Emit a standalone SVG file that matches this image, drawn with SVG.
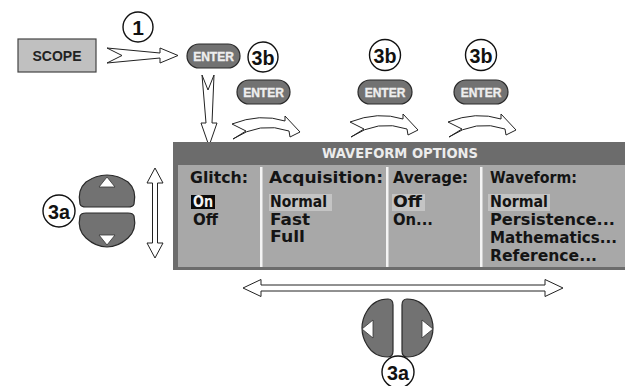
<svg xmlns="http://www.w3.org/2000/svg" width="625" height="386" viewBox="0 0 625 386">
<style>
.lbl circle{fill:#fff;stroke:#111;stroke-width:1.4}
.lbl text{font-family:"Liberation Sans",Arial,sans-serif;font-weight:bold;font-size:21px;fill:#111;text-anchor:middle}
.btn{fill:#727272;stroke:#2a2a2a;stroke-width:1.2}
.btxt{font-family:"Liberation Sans",Arial,sans-serif;font-weight:bold;font-size:12px;fill:#eeeeee;stroke:#eeeeee;stroke-width:0.35;text-anchor:middle}
.hollow{fill:#fff;stroke:#222;stroke-width:1}
.tri{fill:#fff;stroke:#333;stroke-width:0.8}
.scr{font-family:"DejaVu Sans",sans-serif;font-weight:bold;font-size:15.5px;fill:#141414}
.inv{fill:#f4f4f4}
</style>
<defs>
<path id="swoosh" d="M0,2 Q28,-9 53,-1 L53,-6 L68,10 L58,15 L57,9 Q28,-1 1,17 L14,9 Z"/>
</defs>

<g id="connectors">
<polygon class="hollow" points="107,48 160,53 160,48 178,55.5 160,63 160,58 107,63 122,55.5"/>
<polygon class="hollow" points="202,75 206,123 201,123 209,146 217,123 212,123 214,75 208,90"/>
<use href="#swoosh" class="hollow" x="232" y="122"/>
<use href="#swoosh" class="hollow" x="350" y="120"/>
<use href="#swoosh" class="hollow" x="448" y="120"/>
<polygon class="hollow" points="155,168 163,183 157.5,183 157.5,243 163,243 155,258 147,243 152.5,243 152.5,183 147,183"/>
<polygon class="hollow" points="243,288 261,279.5 261,285 545,285 545,279.5 563,288 545,296.5 545,291 261,291 261,296.5"/>
</g>

<g id="scope">
<rect x="18" y="39" width="78" height="33" fill="#c0c0c0" stroke="#444" stroke-width="1.2"/>
<text x="57" y="60.5" font-family="Liberation Sans, Arial, sans-serif" font-weight="bold" font-size="14" fill="#222" text-anchor="middle">SCOPE</text>
</g>

<g id="label-1" class="lbl"><circle cx="138" cy="27" r="15"/><text x="138" y="34.5">1</text></g>

<g id="enter-1"><rect class="btn" x="187" y="44" width="53" height="24" rx="12"/><text class="btxt" x="213.5" y="60.5">ENTER</text></g>
<g id="label-3b-1" class="lbl"><circle cx="263" cy="57" r="15"/><text x="263" y="64.5" textLength="23" lengthAdjust="spacingAndGlyphs">3b</text></g>

<g id="label-3b-2" class="lbl"><circle cx="385" cy="55" r="15.5"/><text x="385" y="62.5" textLength="23" lengthAdjust="spacingAndGlyphs">3b</text></g>
<g id="label-3b-3" class="lbl"><circle cx="481" cy="55" r="15.5"/><text x="481" y="62.5" textLength="23" lengthAdjust="spacingAndGlyphs">3b</text></g>

<g id="enter-2"><rect class="btn" x="237" y="80" width="53" height="24" rx="12"/><text class="btxt" x="263.5" y="96.5">ENTER</text></g>
<g id="enter-3"><rect class="btn" x="358" y="80" width="54" height="24" rx="12"/><text class="btxt" x="385" y="96.5">ENTER</text></g>
<g id="enter-4"><rect class="btn" x="454" y="80" width="54" height="24" rx="12"/><text class="btxt" x="481" y="96.5">ENTER</text></g>

<g id="waveform-options">
<rect x="173" y="142" width="452" height="128" fill="#6c6c6c"/>
<rect x="178" y="165" width="447" height="102" fill="#a8a8a8"/>
<text x="400" y="158" font-family="DejaVu Sans, sans-serif" font-weight="bold" font-size="14" fill="#ececec" text-anchor="middle" textLength="156" lengthAdjust="spacingAndGlyphs">WAVEFORM OPTIONS</text>
<g fill="#f4f4f4">
<rect x="260" y="167" width="2.5" height="100"/>
<rect x="386" y="167" width="2.5" height="100"/>
<rect x="480" y="167" width="2.5" height="100"/>
</g>
<rect x="191" y="195" width="24" height="14" fill="#0a0a0a"/>
<rect x="269" y="194" width="63" height="17" fill="#c4c4c4"/>
<rect x="392" y="194" width="33" height="17" fill="#c4c4c4"/>
<rect x="488" y="194" width="62" height="17" fill="#c4c4c4"/>
<text class="scr" x="190" y="183" textLength="58" lengthAdjust="spacingAndGlyphs">Glitch:</text>
<text class="scr" x="269" y="183" textLength="114" lengthAdjust="spacingAndGlyphs">Acquisition:</text>
<text class="scr" x="393" y="183" textLength="75" lengthAdjust="spacingAndGlyphs">Average:</text>
<text class="scr" x="490" y="183" textLength="87" lengthAdjust="spacingAndGlyphs">Waveform:</text>
<text class="scr inv" x="193" y="207" textLength="20" lengthAdjust="spacingAndGlyphs">On</text>
<text class="scr" x="193" y="225" textLength="25" lengthAdjust="spacingAndGlyphs">Off</text>
<text class="scr" x="270" y="207" textLength="57" lengthAdjust="spacingAndGlyphs">Normal</text>
<text class="scr" x="270" y="225" textLength="40" lengthAdjust="spacingAndGlyphs">Fast</text>
<text class="scr" x="270" y="242" textLength="35" lengthAdjust="spacingAndGlyphs">Full</text>
<text class="scr" x="393" y="207" textLength="29" lengthAdjust="spacingAndGlyphs">Off</text>
<text class="scr" x="393" y="225" textLength="40" lengthAdjust="spacingAndGlyphs">On...</text>
<text class="scr" x="490" y="207" textLength="58" lengthAdjust="spacingAndGlyphs">Normal</text>
<text class="scr" x="490" y="225" textLength="125" lengthAdjust="spacingAndGlyphs">Persistence...</text>
<text class="scr" x="490" y="243" textLength="127" lengthAdjust="spacingAndGlyphs">Mathematics...</text>
<text class="scr" x="490" y="261" textLength="107" lengthAdjust="spacingAndGlyphs">Reference...</text>
</g>

<g id="up-button">
<path class="btn" d="M80,204 Q77,190 86,182 Q96,175 107,175 Q118,175 128,182 Q137,190 134,204 Q133,207 128,207 L86,207 Q81,207 80,204 Z"/>
<polygon class="tri" points="99,187 115,187 107,177"/>
</g>
<g id="down-button">
<path class="btn" d="M80,216 Q81,213 86,213 L128,213 Q133,213 134,216 Q137,230 128,238 Q118,247 107,247 Q96,247 86,238 Q77,230 80,216 Z"/>
<polygon class="tri" points="99,235 115,235 107,245"/>
</g>
<g id="label-3a-1" class="lbl"><circle cx="59" cy="211" r="16"/><text x="59" y="218.5" textLength="22" lengthAdjust="spacingAndGlyphs">3a</text></g>

<g id="left-button">
<path class="btn" d="M388,299 Q393,299 393,305 L393,351 Q393,357 388,357 Q374,357 367,345 Q362,337 362,328 Q362,319 367,311 Q374,299 388,299 Z"/>
<polygon class="tri" points="373,320 373,338 362,329"/>
</g>
<g id="right-button">
<path class="btn" d="M407,299 Q402,299 402,305 L402,351 Q402,357 407,357 Q421,357 428,345 Q433,337 433,328 Q433,319 428,311 Q421,299 407,299 Z"/>
<polygon class="tri" points="422,320 422,338 433,329"/>
</g>
<g id="label-3a-2" class="lbl"><circle cx="398" cy="372" r="16"/><text x="398" y="379.5" textLength="22" lengthAdjust="spacingAndGlyphs">3a</text></g>
</svg>
